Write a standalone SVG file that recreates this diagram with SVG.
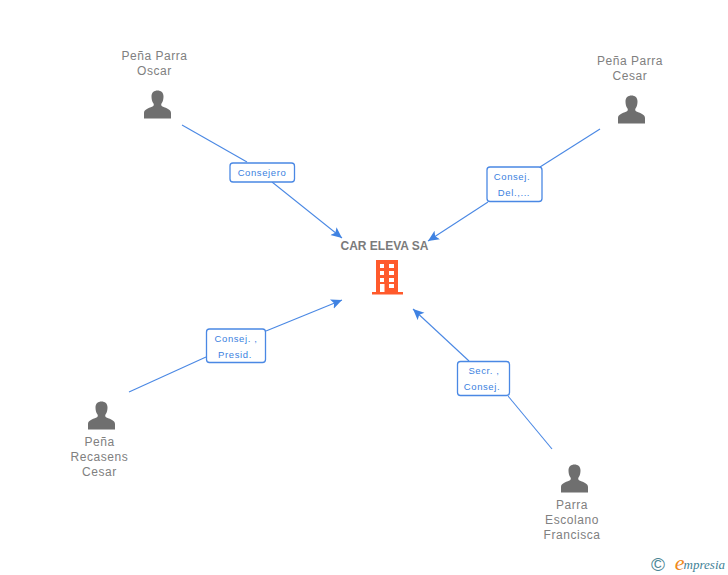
<svg xmlns="http://www.w3.org/2000/svg" width="728" height="575" viewBox="0 0 728 575">
<style>
text{font-family:"Liberation Sans",Arial,sans-serif;text-anchor:middle}
.n{font-size:12px;fill:#808080;letter-spacing:.55px}
.l{font-size:9.500px;fill:#3b7fe0;letter-spacing:.6px}
.c{fill:none;stroke:#4a88e4;stroke-width:1.100;marker-end:url(#a)}
.s{fill:none;stroke:#4a88e4;stroke-width:1.100}
.b{fill:#fff;stroke:#4a88e4;stroke-width:1.300}
.p{fill:#6f6f6f}
</style>
<defs>
<marker id="a" markerUnits="userSpaceOnUse" markerWidth="12" markerHeight="12" refX="11" refY="6" orient="auto"><path d="M0 1L11 6L0 11L2.500 6Z" fill="#3f82e2"/></marker>
<path id="u" d="M-13.500 14.500V9C-13.500 5.500-9.500 4.500-5 2.500C-3.500 1.800-3.500 0.500-4 -0.500C-5.500 -2.500-6 -5-6 -7.500C-6 -11.500-3.500 -13.500 0 -13.500C3.500 -13.500 6 -11.500 6 -7.500C6 -5 5.500 -2.500 4 -0.500C3.500 0.500 3.500 1.800 5 2.500C9.500 4.500 13.500 5.500 13.500 9V14.500Z"/>
</defs>
<g id="connectors">
<path class="s" d="M182 125L247 162"/><path class="c" d="M272 182L342 238"/>
<path class="s" d="M600 129L540 167"/><path class="c" d="M488 202L428 241"/>
<path class="s" d="M129 392L206 357"/><path class="c" d="M266 331L342 300"/>
<path class="s" d="M552 449L508 396"/><path class="c" d="M469 361L413 309"/>
</g>
<g id="center">
<text x="384.500" y="250" style="font-size:12px;font-weight:bold;fill:#7b7b7b">CAR ELEVA SA</text>
<path fill="#ff5a2c" fill-rule="evenodd" d="M376 260H398V292H403V294.500H372V292H376ZM380 264V268H384V264ZM389 264V268H394V264ZM380 271V275H384V271ZM389 271V275H394V271ZM380 278V282H384V278ZM389 278V282H394V278ZM389 284V288H394V284ZM380 284V292H384.500V284Z"/>
</g>
<g id="n1"><use href="#u" class="p" x="157.500" y="104"/><text class="n" x="154.500" y="60">Peña Parra</text><text class="n" x="154.500" y="75">Oscar</text></g>
<g id="n2"><use href="#u" class="p" x="631.500" y="109"/><text class="n" x="630" y="65">Peña Parra</text><text class="n" x="630" y="80">Cesar</text></g>
<g id="n3"><use href="#u" class="p" x="101.500" y="415"/><text class="n" x="99.500" y="446">Peña</text><text class="n" x="99.500" y="461">Recasens</text><text class="n" x="99.500" y="476">Cesar</text></g>
<g id="n4"><use href="#u" class="p" x="574.500" y="478"/><text class="n" x="572" y="509">Parra</text><text class="n" x="572" y="524">Escolano</text><text class="n" x="572" y="539">Francisca</text></g>
<g id="e1"><rect class="b" x="230" y="163" width="64.500" height="19" rx="3"/><text class="l" x="262" y="176">Consejero</text></g>
<g id="e2"><rect class="b" x="487" y="167" width="55" height="34.500" rx="3"/><text class="l" x="512" y="180">Consej.</text><text class="l" x="514" y="196">Del.,...</text></g>
<g id="e3"><rect class="b" x="206.500" y="329" width="59" height="33.500" rx="3"/><text class="l" x="236" y="342">Consej. ,</text><text class="l" x="235" y="358">Presid.</text></g>
<g id="e4"><rect class="b" x="457.500" y="361.500" width="52" height="34" rx="3"/><text class="l" x="484" y="374">Secr. ,</text><text class="l" x="482" y="390">Consej.</text></g>
<g id="logo">
<text x="658" y="571" style="font-size:19px;fill:#4b8595">©</text>
<text x="725" y="570" style="text-anchor:end;font-size:13px;font-style:italic;fill:#3f8296;font-family:'Liberation Serif',serif"><tspan style="font-size:22px;fill:#f08a1c">e</tspan><tspan dy="-1" dx="-1">mpresia</tspan></text>
</g>
</svg>
